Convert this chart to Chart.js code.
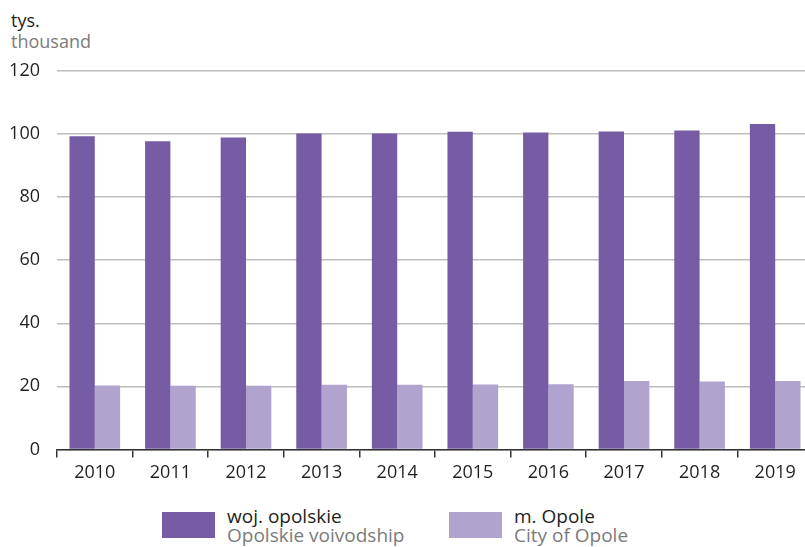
<!DOCTYPE html>
<html>
<head>
<meta charset="utf-8">
<script src="https://cdn.jsdelivr.net/npm/chart.js@4/dist/chart.umd.min.js"></script>
<style>
    html, body { margin: 0; padding: 0; background: #fff; overflow: hidden; }
    body { width: 805px; height: 547px; position: relative; font-family: "Open Sans", sans-serif; }
    #wrap { position: absolute; left: 0; top: 0; width: 813px; height: 489px; }
    .unit { position: absolute; left: 11px; top: 10px; font-size: 18px; line-height: 21px; color: #231f20; }
    .gray { color: #7b7b7b; }
    .leg { position: absolute; top: 512px; }
    .leg .box { position: absolute; left: 0; top: 0; width: 53px; height: 26px; }
    .leg .txt { position: absolute; left: 65px; top: -5px; font-size: 19px; line-height: 19px; color: #231f20; white-space: nowrap; }
</style>
</head>
<body>
<div class="unit">tys.<br><span class="gray">thousand</span></div>
<div id="wrap"><canvas id="chart"></canvas></div>
<div class="leg" style="left:162px"><div class="box" style="background:#755ca5"></div><div class="txt">woj. opolskie<br><span class="gray">Opolskie voivodship</span></div></div>
<div class="leg" style="left:449px"><div class="box" style="background:#b0a4cf"></div><div class="txt">m. Opole<br><span class="gray">City of Opole</span></div></div>
<script>
const years = ['2010', '2011', '2012', '2013', '2014', '2015', '2016', '2017', '2018', '2019'];
const voivodship = [99.3, 97.7, 98.9, 100.2, 100.2, 100.7, 100.5, 100.8, 101.1, 103.2];
const cityOpole = [20.3, 20.2, 20.2, 20.5, 20.5, 20.6, 20.7, 21.7, 21.5, 21.7];
const yTicks = [0, 20, 40, 60, 80, 100, 120];

new Chart(document.getElementById('chart'), {
    type: 'bar',
    data: {
        labels: years,
        datasets: [{
            label: 'woj. opolskie',
            data: voivodship,
            backgroundColor: '#755ca5',
            categoryPercentage: 0.67,
            barPercentage: 1.0
        }, {
            label: 'm. Opole',
            data: cityOpole,
            backgroundColor: '#b0a4cf',
            categoryPercentage: 0.67,
            barPercentage: 1.0
        }]
    },
    options: {
        responsive: true,
        maintainAspectRatio: false,
        animation: false,
        layout: { padding: { top: 71, right: 0, bottom: 0, left: 0 } },
        plugins: {
            legend: { display: false },
            tooltip: { enabled: false }
        },
        scales: {
            x: {
                offset: true,
                grid: { offset: true, drawOnChartArea: false, drawTicks: true, tickLength: 8, color: '#333', lineWidth: 1.5 },
                border: { display: true, color: '#333', width: 1.5 },
                ticks: { color: '#231f20', font: { family: 'Open Sans', size: 18 }, padding: 5, maxRotation: 0 }
            },
            y: {
                min: 0,
                max: 120,
                afterBuildTicks: s => { s.ticks = yTicks.map(v => ({ value: v })); },
                afterFit: s => { s.width = 57; },
                grid: { drawTicks: false, color: '#bdbdbd', lineWidth: 1.5 },
                border: { display: false },
                ticks: { color: '#231f20', font: { family: 'Open Sans', size: 18 }, padding: 17 }
            }
        }
    }
});
</script>
</body>
</html>
